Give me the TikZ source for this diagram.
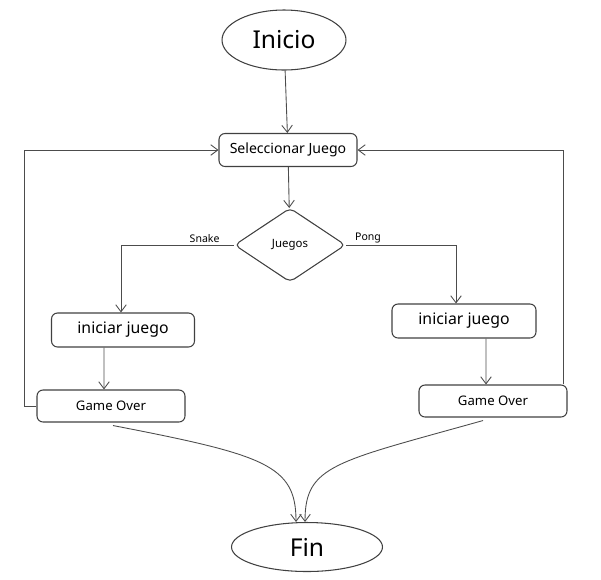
\documentclass[tikz,border=0pt]{standalone}
\usepackage{fontspec}
\setmainfont{Noto Sans}
\usetikzlibrary{shapes.geometric, arrows.meta, positioning}

\begin{document}
\begin{tikzpicture}[x=0.02cm, y=-0.02cm,
        box/.style={draw=black!75, rounded corners=0.12cm, line width=0.6pt, inner sep=0pt, font=\fontsize{8}{9}\selectfont},
        term/.style={draw=black!75, ellipse, line width=0.6pt, inner sep=0pt, font=\fontsize{14}{16}\selectfont},
        choice/.style={draw=black!75, diamond, line width=0.6pt, inner sep=0pt, rounded corners=0.1cm, font=\fontsize{6.5}{8}\selectfont},
        arr/.style={draw=black!70, line width=0.5pt, -{Straight Barb[length=4pt, width=6pt]}},
        lbl/.style={font=\fontsize{6}{7}\selectfont, inner sep=1pt}
    ]
        \useasboundingbox (0,0) rectangle (601,579);

        % Start and end
        \node[term, minimum width=2.48cm, minimum height=1.2cm] (inicio) at (284, 40) {Inicio};
        \node[term, minimum width=3.02cm, minimum height=0.98cm] (fin) at (307, 547) {Fin};

        % Menu and choice
        \node[box, minimum width=2.76cm, minimum height=0.66cm] (sel) at (288, 150) {Seleccionar Juego};
        \node[choice, minimum width=2.22cm, minimum height=1.48cm] (jue) at (290, 245) {Juegos};

        % Left branch
        \node[box, minimum width=2.86cm, minimum height=0.68cm, font=\fontsize{9}{10}\selectfont] (iniL) at (123, 330) {iniciar juego};
        \node[box, minimum width=2.96cm, minimum height=0.64cm, font=\fontsize{7.5}{9}\selectfont] (goL) at (111, 406) {Game Over};

        % Right branch
        \node[box, minimum width=2.88cm, minimum height=0.68cm, font=\fontsize{9}{10}\selectfont] (iniR) at (464, 321) {iniciar juego};
        \node[box, minimum width=2.96cm, minimum height=0.64cm, font=\fontsize{7.5}{9}\selectfont] (goR) at (493, 401) {Game Over};

        % Main flow
        \draw[arr] (inicio) -- (sel);
        \draw[arr] (sel) -- (jue);
        \draw[arr] (jue.west) -| ([xshift=-0.04cm]iniL.north) node[lbl, pos=0.13, above] {Snake};
        \draw[arr] (jue.east) -| ([xshift=-0.16cm]iniR.north) node[lbl, pos=0.1, above] {Pong};
        \draw[arr] ([xshift=-0.38cm]iniL.south) -- ([xshift=-0.14cm]goL.north);
        \draw[arr] ([xshift=0.44cm]iniR.south) -- ([xshift=-0.14cm]goR.north);

        % Back to menu
        \draw[arr] (goL.west) -- ++(-12, 0) |- (sel.west);
        \draw[arr] ([xshift=-0.08cm]goR.north east) |- (sel.east);

        % To the end
        \draw[arr] ([xshift=0.04cm, yshift=-0.06cm]goL.south) .. controls (265, 455) and (296, 465) .. ([xshift=-0.22cm]fin.north);
        \draw[arr] ([xshift=-0.2cm, yshift=-0.06cm]goR.south) .. controls (335, 462) and (305, 465) .. ([xshift=-0.04cm]fin.north);
    \end{tikzpicture}
\end{document}
